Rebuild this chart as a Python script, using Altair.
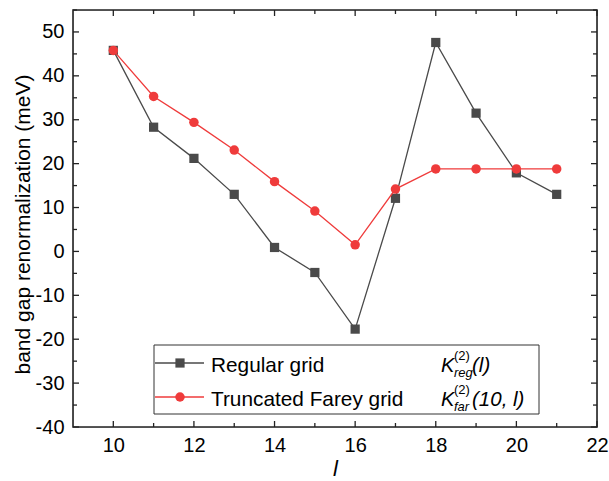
import altair as alt
import pandas as pd

# ---- data ----
l_values = list(range(10, 22))
regular = [45.8, 28.3, 21.2, 13.0, 0.9, -4.8, -17.7, 12.1, 47.6, 31.5, 17.9, 13.0]
farey = [45.8, 35.3, 29.4, 23.1, 15.9, 9.2, 1.5, 14.2, 18.8, 18.8, 18.8, 18.8]

x_major = [10, 12, 14, 16, 18, 20, 22]
x_minor = [11, 13, 15, 17, 19, 21]
y_major = list(range(-40, 51, 10))
y_minor = list(range(-35, 56, 10))

legend_labels = ["Regular grid", "Truncated Farey grid"]
formula_main = ["K", "K"]
formula_sup = ["(2)", "(2)"]
formula_sub = ["reg", "far"]
formula_arg = ["(l)", "(10, l)"]

W, H = 524, 417
FONT = "Liberation Sans"
GRAY = "#4a4a4a"
RED = "#ef3b3b"

reg_df = pd.DataFrame({"l": l_values, "val": regular})
far_df = pd.DataFrame({"l": l_values, "val": farey})

xscale = alt.Scale(domain=[9, 22], nice=False, zero=False)
yscale = alt.Scale(domain=[-40, 55], nice=False, zero=False)

xaxis = alt.Axis(values=x_major, ticks=False, domain=False, grid=False,
                 labelFontSize=20, labelFont=FONT, labelColor="black",
                 labelPadding=8, labelExpr="datum.value + ''", labelFlush=False,
                 title="l", titleFont=FONT, titleFontStyle="italic",
                 titleFontWeight="normal", titleFontSize=22, titleColor="black",
                 titleY=48, titleBaseline="alphabetic")
yaxis = alt.Axis(values=y_major, ticks=False, domain=False, grid=False,
                 labelFontSize=20, labelFont=FONT, labelColor="black",
                 labelPadding=9, labelExpr="datum.value + ''", labelFlush=False,
                 title="band gap renormalization (meV)", titleFont=FONT,
                 titleFontWeight="normal", titleFontSize=21, titleColor="black",
                 titlePadding=2, titleY=214)

X = alt.X("l:Q", scale=xscale, axis=xaxis)
Y = alt.Y("val:Q", scale=yscale, axis=yaxis)

base_reg = alt.Chart(reg_df).encode(x=X, y=Y)
line_reg = base_reg.mark_line(color=GRAY, strokeWidth=1.3)
pts_reg = base_reg.mark_point(shape="square", filled=True, size=85, color=GRAY, opacity=1)

base_far = alt.Chart(far_df).encode(x=X, y=Y)
line_far = base_far.mark_line(color=RED, strokeWidth=1.3)
pts_far = base_far.mark_point(shape="circle", filled=True, size=90, color=RED, opacity=1)

# ---- frame ----
one = pd.DataFrame({"a": [0]})
frame = alt.Chart(one).mark_rect(fillOpacity=0, stroke="#222", strokeWidth=1.6).encode(
    x=alt.value(0), x2=alt.value(W), y=alt.value(0), y2=alt.value(H))

# ---- inward ticks on all four sides ----
def xticks(vals, length):
    d = pd.DataFrame({"l": vals})
    bottom = alt.Chart(d).mark_rule(color="#222", strokeWidth=1.3).encode(
        x=X, y=alt.value(H), y2=alt.value(H - length))
    top = alt.Chart(d).mark_rule(color="#222", strokeWidth=1.3).encode(
        x=X, y=alt.value(0), y2=alt.value(length))
    return [bottom, top]

def yticks(vals, length):
    d = pd.DataFrame({"val": vals})
    left = alt.Chart(d).mark_rule(color="#222", strokeWidth=1.3).encode(
        y=Y, x=alt.value(0), x2=alt.value(length))
    right = alt.Chart(d).mark_rule(color="#222", strokeWidth=1.3).encode(
        y=Y, x=alt.value(W), x2=alt.value(W - length))
    return [left, right]

ticks = xticks(x_major, 6) + xticks(x_minor, 4) + yticks(y_major, 6) + yticks(y_minor, 4)

# ---- custom legend ----
leg_box = alt.Chart(one).mark_rect(fill="white", stroke="#333", strokeWidth=1).encode(
    x=alt.value(81), x2=alt.value(466), y=alt.value(335), y2=alt.value(404))

row_y = [353, 387]
base_y = [362, 396]
leg = [leg_box]
colors = [GRAY, RED]
shapes = ["square", "circle"]
sizes = [85, 90]
for i in range(2):
    leg.append(alt.Chart(one).mark_rule(color=colors[i], strokeWidth=1.3).encode(
        x=alt.value(82), x2=alt.value(131), y=alt.value(row_y[i])))
    leg.append(alt.Chart(one).mark_point(shape=shapes[i], filled=True, size=sizes[i],
                                          color=colors[i], opacity=1).encode(
        x=alt.value(107), y=alt.value(row_y[i])))
    leg.append(alt.Chart(one).mark_text(align="left", baseline="alphabetic", fontSize=20.8,
                                         font=FONT, color="black").encode(
        x=alt.value(138), y=alt.value(base_y[i]), text=alt.value(legend_labels[i])))
    leg.append(alt.Chart(one).mark_text(align="left", baseline="alphabetic", fontSize=20,
                                         font=FONT, fontStyle="italic", color="black").encode(
        x=alt.value(368), y=alt.value(base_y[i]), text=alt.value(formula_main[i])))
    leg.append(alt.Chart(one).mark_text(align="left", baseline="alphabetic", fontSize=13,
                                         font=FONT, color="black").encode(
        x=alt.value(381), y=alt.value(base_y[i] - 12), text=alt.value(formula_sup[i])))
    leg.append(alt.Chart(one).mark_text(align="left", baseline="alphabetic", fontSize=13,
                                         font=FONT, fontStyle="italic", color="black").encode(
        x=alt.value(381), y=alt.value(base_y[i] + 5), text=alt.value(formula_sub[i])))
    leg.append(alt.Chart(one).mark_text(align="left", baseline="alphabetic", fontSize=20.5,
                                         font=FONT, fontStyle="italic", color="black").encode(
        x=alt.value(399), y=alt.value(base_y[i]), text=alt.value(formula_arg[i])))

chart = alt.layer(
    line_reg, pts_reg, line_far, pts_far, frame, *ticks, *leg
).properties(
    width=W, height=H,
    padding={"left": 73, "top": 10, "right": 12, "bottom": 54},
    autosize=alt.AutoSizeParams(type="none"),
).configure_view(
    stroke=None
).configure(background="white")

chart.save("out.html", embed_options={"renderer": "svg", "actions": False})
